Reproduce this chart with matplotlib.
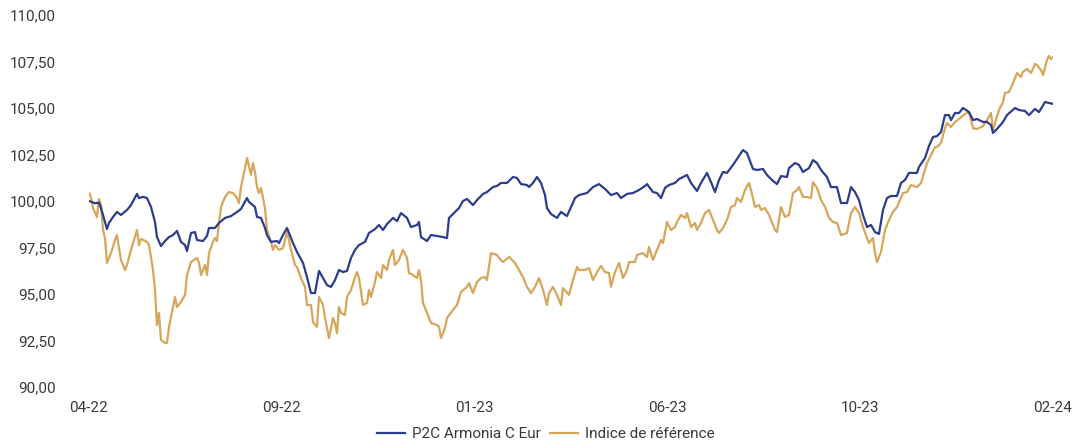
import matplotlib
matplotlib.use("Agg")
import matplotlib.pyplot as plt
import numpy as np

# ---------------- data ----------------
series_names = ["P2C Armonia C Eur", "Indice de référence"]
x_tick_labels = ["04-22", "09-22", "01-23", "06-23", "10-23", "02-24"]
y_ticks = [90, 92.5, 95, 97.5, 100, 102.5, 105, 107.5, 110]

# trading-day index of each observation (fund)
fund_days = [
    0, 3, 5, 6, 7, 9, 10, 12, 14, 16,
    19, 21, 24, 25, 27, 29, 31, 33, 34, 36,
    38, 40, 42, 44, 46, 48, 49, 51, 53, 54,
    57, 59, 60, 63, 65, 68, 71, 74, 76, 79,
    80, 83, 84, 86, 88, 89, 91, 94, 95, 97,
    99, 100, 102, 104, 107, 109, 111, 113, 115, 117,
    119, 121, 123, 125, 127, 129, 131, 133, 135, 138,
    140, 143, 145, 147, 149, 152, 154, 156, 159, 161,
    164, 165, 166, 169, 171, 174, 177, 179, 180, 183,
    185, 187, 189, 192, 194, 197, 199, 202, 204, 206,
    209, 212, 214, 216, 219, 220, 222, 224, 226, 228,
    229, 231, 234, 236, 239, 241, 243, 245, 249, 252,
    255, 258, 261, 264, 266, 269, 272, 275, 278, 279,
    282, 284, 286, 288, 290, 293, 295, 299, 301, 304,
    306, 309, 311, 313, 315, 317, 319, 322, 324, 327,
    329, 332, 334, 337, 339, 342, 344, 346, 349, 350,
    353, 355, 357, 360, 362, 364, 366, 369, 371, 374,
    376, 379, 381, 383, 385, 387, 389, 391, 393, 395,
    397, 399, 401, 404, 406, 408, 410, 414, 415, 418,
    420, 422, 424, 426, 428, 430, 431, 433, 435, 437,
    440, 442, 444, 447, 449, 451, 452, 454, 457, 459,
    463, 465, 468, 470, 473, 475, 478, 480, 482,
]
fund_values = [
    100.00, 99.88, 99.91, 99.62, 99.25, 98.49, 98.82, 99.14, 99.41, 99.25,
    99.52, 99.78, 100.38, 100.16, 100.22, 100.16, 99.68, 98.87, 98.06, 97.58,
    97.85, 98.06, 98.17, 98.39, 97.80, 97.63, 97.31, 98.28, 98.33, 97.90,
    97.85, 98.12, 98.55, 98.55, 98.82, 99.09, 99.19, 99.41, 99.57, 100.16,
    99.95, 99.68, 99.14, 99.09, 98.55, 98.17, 97.80, 97.85, 97.74, 98.17,
    98.55, 98.28, 97.74, 97.26, 96.67, 95.91, 95.05, 95.05, 96.24, 95.86,
    95.48, 95.38, 95.75, 96.29, 96.18, 96.24, 96.94, 97.37, 97.63, 97.80,
    98.28, 98.49, 98.71, 98.44, 98.76, 99.09, 98.92, 99.35, 99.09, 98.60,
    98.71, 98.87, 98.06, 97.85, 98.17, 98.12, 98.06, 98.01, 99.09, 99.41,
    99.62, 100.00, 100.11, 99.78, 100.05, 100.38, 100.48, 100.75, 100.81, 100.97,
    100.97, 101.29, 101.24, 100.91, 100.86, 100.75, 100.97, 101.29, 100.97, 100.32,
    99.62, 99.30, 99.09, 99.41, 99.19, 99.68, 100.16, 100.32, 100.43, 100.75,
    100.91, 100.65, 100.32, 100.43, 100.16, 100.38, 100.43, 100.59, 100.81, 100.91,
    100.48, 100.43, 100.16, 100.70, 100.86, 100.97, 101.18, 101.40, 100.97, 100.54,
    100.97, 101.51, 101.02, 100.48, 101.13, 101.56, 101.51, 101.94, 102.26, 102.74,
    102.58, 101.72, 101.67, 101.72, 101.40, 101.08, 100.91, 101.34, 101.29, 101.77,
    102.04, 101.94, 101.56, 101.77, 102.20, 102.04, 101.67, 101.29, 100.75, 100.75,
    99.89, 99.89, 100.75, 100.48, 100.05, 99.25, 98.60, 98.71, 98.33, 98.23,
    99.52, 100.16, 100.27, 100.27, 100.97, 101.13, 101.51, 101.51, 101.83, 102.31,
    102.96, 103.44, 103.49, 103.71, 104.62, 104.62, 104.35, 104.73, 104.73, 105.00,
    104.78, 104.35, 104.41, 104.25, 104.25, 104.09, 103.66, 103.87, 104.25, 104.62,
    105.00, 104.89, 104.84, 104.62, 104.95, 104.78, 105.32, 105.27, 105.22,
]

# trading-day index of each observation (benchmark)
bench_days = [
    0, 1, 2, 4, 5, 6, 7, 8, 9, 11,
    13, 14, 15, 16, 18, 19, 21, 24, 25, 26,
    29, 30, 32, 33, 34, 35, 36, 38, 39, 40,
    41, 43, 44, 46, 48, 49, 51, 54, 55, 56,
    58, 59, 60, 62, 63, 64, 65, 66, 68, 70,
    72, 74, 75, 76, 78, 79, 81,
    82, 83, 84, 85, 86, 88, 89, 91, 92, 93,
    95, 97, 99, 100, 101, 103, 104, 106, 108, 109,
    111, 112, 114, 115, 117, 118, 120, 122, 123, 124,
    125, 126, 128, 129, 131, 133, 134, 135, 137, 139,
    140, 141, 143, 144, 146, 147, 149, 150, 152, 153,
    155, 157, 159, 160, 162, 164, 165,
    166, 167, 169, 171, 174, 175, 176, 178, 179, 182,
    184, 186, 189, 190, 192, 194, 196, 198, 199, 201,
    204, 205, 207, 210, 213, 215, 217, 219, 221, 223,
    225, 227, 229, 230, 232, 234, 236, 237, 240, 242,
    244,
    245, 248, 250, 252, 254, 256, 258, 260, 261, 263,
    265, 267, 269, 270, 273, 274, 277, 279, 280, 282,
    284, 286, 287, 289, 291, 293, 294, 296, 298, 299,
    301, 303, 304, 306, 308, 310, 312, 314, 315, 317,
    319, 321, 323, 324, 326, 328,
    330, 331, 333, 335, 336, 338, 340, 343, 344, 346,
    348, 350, 352, 354, 355, 357, 359, 361, 362, 364,
    366, 368, 370, 372, 374, 376, 379, 381, 383, 385,
    387, 389, 390, 392, 393, 394, 396, 398, 400, 402,
    404,
    407, 409, 411, 414, 416, 418, 419, 421, 423, 424,
    426, 428, 429, 431, 433, 435, 438, 440, 441, 442,
    444, 447, 449, 451, 452, 455, 457, 458, 460, 462,
    464, 466, 467, 469, 471, 473, 474, 476, 477, 479,
    480, 481, 482,
]
bench_values = [
    100.43, 100.22, 99.62, 99.14, 100.11, 99.78, 98.44, 98.01, 96.67, 97.20,
    97.90, 98.17, 97.47, 96.83, 96.29, 96.56, 97.37, 98.44, 97.63, 97.96,
    97.80, 97.63, 96.29, 95.22, 93.33, 93.98, 92.53, 92.37, 92.37, 93.23,
    93.76, 94.84, 94.30, 94.57, 94.95, 96.02, 96.72, 96.94, 96.67, 96.02,
    96.56, 96.02, 97.20, 97.80, 98.01, 97.85, 98.82, 99.68, 100.22, 100.48,
    100.43, 100.16, 99.89, 100.75, 101.77, 102.31, 101.40,
    102.04, 101.56, 100.75, 100.43, 100.70, 99.62, 98.44, 97.80, 97.37, 97.63,
    97.37, 97.47, 98.33, 97.90, 97.37, 96.56, 96.45, 95.86, 95.38, 94.41,
    94.41, 93.49, 93.23, 94.84, 94.41, 93.71, 92.63, 93.71, 93.44, 92.90,
    94.30, 93.98, 93.87, 94.84, 95.22, 95.91, 96.18, 95.86, 94.41, 94.52,
    95.22, 94.84, 95.65, 96.18, 95.86, 96.56, 96.29, 96.83, 97.37, 96.56,
    96.83, 97.37, 96.94, 96.13, 96.02, 95.86, 96.29,
    95.75, 94.52, 93.98, 93.44, 93.33, 93.23, 92.63, 93.17, 93.71, 94.14,
    94.41, 95.11, 95.38, 95.59, 95.05, 95.65, 95.86, 95.91, 95.75, 97.20,
    97.10, 96.94, 96.72, 96.99, 96.67, 96.29, 95.91, 95.38, 95.05, 95.38,
    95.86, 95.22, 94.41, 95.05, 95.38, 94.95, 94.41, 95.32, 94.95, 95.75,
    96.45,
    96.29, 96.29, 96.40, 95.75, 96.18, 96.51, 96.18, 96.13, 95.38, 96.18,
    96.67, 95.86, 96.29, 96.72, 96.72, 97.10, 97.20, 96.99, 97.53, 96.83,
    97.37, 97.90, 97.74, 98.87, 98.44, 98.60, 98.87, 99.25, 99.09, 99.35,
    98.60, 98.82, 98.44, 98.82, 99.35, 99.52, 98.98, 98.44, 98.28, 98.55,
    98.98, 99.68, 99.78, 100.16, 99.95, 100.59,
    100.97, 100.59, 99.68, 99.78, 99.52, 99.62, 99.25, 98.44, 98.33, 99.68,
    99.14, 99.25, 100.43, 100.59, 100.75, 100.22, 100.22, 100.16, 101.02, 100.70,
    100.05, 99.68, 99.09, 98.87, 98.82, 98.17, 98.28, 99.35, 99.68, 99.35,
    98.60, 98.01, 97.74, 98.01, 97.20, 96.72, 97.26, 98.44, 98.98, 99.41,
    99.68,
    100.43, 100.48, 100.86, 100.75, 100.97, 101.67, 102.04, 102.47, 102.90, 102.90,
    103.12, 103.92, 104.19, 103.98, 104.25, 104.41, 104.68, 104.78, 104.35, 103.92,
    103.87, 104.03, 104.35, 104.73, 103.82, 104.89, 105.32, 105.81, 105.86, 106.34,
    106.88, 106.67, 106.94, 107.10, 106.88, 107.37, 107.31, 107.04, 106.77, 107.58,
    107.80, 107.63, 107.74,
]

assert len(fund_days) == len(fund_values)
assert len(bench_days) == len(bench_values)

# ---------------- style ----------------
FUND_COLOR = "#2E3C8C"
BENCH_COLOR = "#D6A65A"
TEXT_COLOR = "#3A3A3A"
plt.rcParams["font.family"] = ["Roboto", "DejaVu Sans"]

fig = plt.figure(figsize=(10.75, 4.45), dpi=100)
ax = fig.add_axes([89 / 1075, 1 - 387 / 445, (1053 - 89) / 1075, (387 - 15) / 445])

ax.plot(bench_days, bench_values, color=BENCH_COLOR, lw=1.6,
        label=series_names[1], zorder=2, solid_joinstyle="round")
ax.plot(fund_days, fund_values, color=FUND_COLOR, lw=1.6,
        label=series_names[0], zorder=3, solid_joinstyle="round")

last_day = max(fund_days[-1], bench_days[-1])
ax.set_xlim(0, last_day)
ax.set_ylim(90, 110)

ax.set_yticks(y_ticks)
ax.set_yticklabels([f"{v:.2f}".replace(".", ",") for v in y_ticks])
ax.set_xticks(np.linspace(0, last_day, len(x_tick_labels)))
ax.set_xticklabels(x_tick_labels)

ax.tick_params(axis="both", length=0, labelsize=11, colors=TEXT_COLOR)
ax.tick_params(axis="y", pad=24)
ax.tick_params(axis="x", pad=10)
for s in ax.spines.values():
    s.set_visible(False)

handles, labels = ax.get_legend_handles_labels()
order = [1, 0]
fig.legend([handles[i] for i in order], [labels[i] for i in order],
           loc="center", bbox_to_anchor=(546 / 1075, 1 - 434 / 445),
           ncol=2, frameon=False, fontsize=11, handlelength=1.85,
           handletextpad=0.45, columnspacing=0.6, labelcolor=TEXT_COLOR)

fig.savefig("out.png", dpi=100, facecolor="white")
